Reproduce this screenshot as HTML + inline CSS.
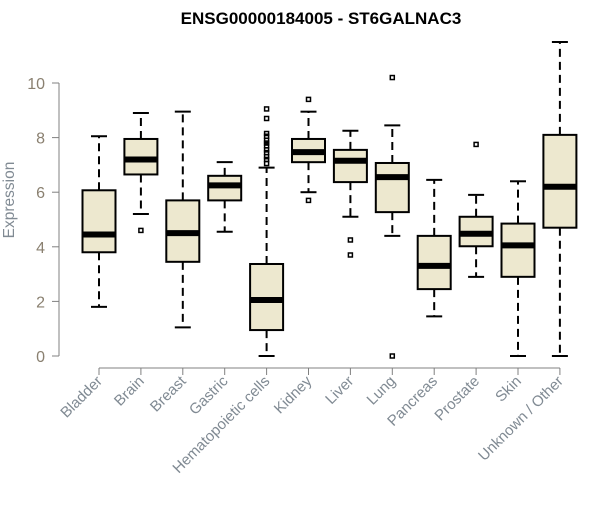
<!DOCTYPE html>
<html><head><meta charset="utf-8"><style>
body{margin:0;background:#fff;width:600px;height:500px;overflow:hidden}
svg{font-family:"Liberation Sans",sans-serif}
</style></head><body>
<svg id="chart" width="600" height="500">
<text x="321" y="24" text-anchor="middle" font-size="17" font-weight="bold">ENSG00000184005 - ST6GALNAC3</text>
<text transform="translate(14,200) rotate(-90)" text-anchor="middle" font-size="15.5" fill="#808a93">Expression</text>
<g id="axes"></g><g id="boxes"></g>
</svg>
<script>
const categories=["Bladder","Brain","Breast","Gastric","Hematopoietic cells","Kidney","Liver","Lung","Pancreas","Prostate","Skin","Unknown / Other"];
const lows=[1.8,5.2,1.05,4.55,0,6.0,5.1,4.4,1.45,2.9,0,0];
const q1s=[3.8,6.65,3.45,5.7,0.95,7.1,6.37,5.27,2.45,4.02,2.9,4.7];
const medians=[4.45,7.2,4.5,6.25,2.05,7.47,7.15,6.55,3.3,4.48,4.05,6.2];
const q3s=[6.07,7.95,5.7,6.6,3.37,7.95,7.55,7.07,4.4,5.1,4.85,8.1];
const highs=[8.05,8.9,8.95,7.1,6.9,8.95,8.25,8.45,6.45,5.9,6.4,11.5];
const outliers=[[],[4.6],[],[],[9.05,8.7,8.15,8.05,7.9,7.8,7.7,7.55,7.45,7.3,7.2,7.05],[9.4,5.7],[4.25,3.7],[10.2,0],[],[7.75],[],[]];
const yTicks=[0,2,4,6,8,10];
const NS="http://www.w3.org/2000/svg";
const y=v=>356-v*27.3;
const x=i=>99+i*41.9;
function mk(tag,attrs,parent){const e=document.createElementNS(NS,tag);for(const k in attrs)e.setAttribute(k,attrs[k]);parent.appendChild(e);return e;}
const ax=document.getElementById('axes'),bx=document.getElementById('boxes');
const gc="#808080";
let yl=mk('line',{x1:59,x2:59,y1:y(0),y2:y(10),stroke:gc},ax);


yTicks.forEach(t=>{
 let l=mk('line',{x1:52,x2:59,y1:y(t),y2:y(t),stroke:gc},ax);
 
 
 let tx=mk('text',{x:45,y:y(t)+6,'text-anchor':'end','font-size':16,fill:'#8a8070'},ax);
 tx.textContent=t;
 
 
});
let xl=mk('line',{x1:x(0),x2:x(11),y1:368,y2:368,stroke:gc},ax);


categories.forEach((c,i)=>{
 const cx=x(i),hw=16.5;
 let t=mk('line',{x1:cx,x2:cx,y1:368,y2:375,stroke:gc},ax);
 
 
 let tx=mk('text',{transform:`translate(${cx+4},${382}) rotate(-45)`,'text-anchor':'end','font-size':15,fill:'#808a93'},ax);
 tx.textContent=c;
 
 
 const g=mk('g',{},bx);
 
 
 const ws={stroke:'#000','stroke-width':2,'stroke-dasharray':'8,5'};
 mk('line',Object.assign({x1:cx,x2:cx,y1:y(q3s[i]),y2:y(highs[i])},ws),g);
 mk('line',Object.assign({x1:cx,x2:cx,y1:y(q1s[i]),y2:y(lows[i])},ws),g);
 mk('line',{x1:cx-8,x2:cx+8,y1:y(highs[i]),y2:y(highs[i]),stroke:'#000','stroke-width':2},g);
 mk('line',{x1:cx-8,x2:cx+8,y1:y(lows[i]),y2:y(lows[i]),stroke:'#000','stroke-width':2},g);
 mk('rect',{x:cx-hw,y:y(q3s[i]),width:hw*2,height:y(q1s[i])-y(q3s[i]),fill:'#ede8cf',stroke:'#000','stroke-width':2},g);
 mk('line',{x1:cx-hw,x2:cx+hw,y1:y(medians[i]),y2:y(medians[i]),stroke:'#000','stroke-width':6},g);
 outliers[i].forEach(o=>{
  let r=mk('rect',{x:cx-2,y:y(o)-2,width:4,height:4,fill:'none',stroke:'#000','stroke-width':1.5},g);
  
  
 });
});
</script>
</body></html>
